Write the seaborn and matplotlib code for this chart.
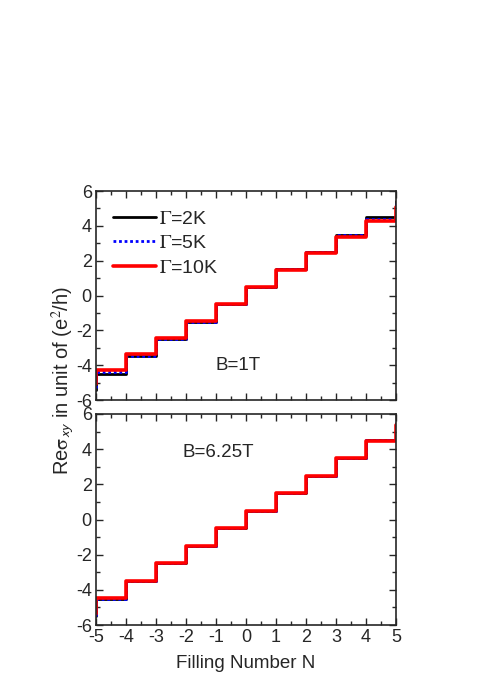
import numpy as np
import pandas as pd
import seaborn as sns
import matplotlib.pyplot as plt
from matplotlib.ticker import MultipleLocator

# filling number edges and plateau values (units of e^2/h)
filling = [-5, -4, -3, -2, -1, 0, 1, 2, 3, 4, 5]

# B = 1T
top_2k = [-4.5, -3.5, -2.5, -1.5, -0.5, 0.5, 1.5, 2.5, 3.5, 4.5]
top_5k = [-4.42, -3.46, -2.49, -1.5, -0.5, 0.5, 1.5, 2.49, 3.46, 4.42]
top_10k = [-4.3, -3.38, -2.46, -1.49, -0.5, 0.5, 1.49, 2.46, 3.38, 4.3]
top_ends = {"2K": (-5.4, 5.4), "5K": (-5.3, 5.3), "10K": (-5.1, 5.1)}

# B = 6.25T
bot_2k = [-4.5, -3.5, -2.5, -1.5, -0.5, 0.5, 1.5, 2.5, 3.5, 4.5]
bot_5k = [-4.5, -3.5, -2.5, -1.5, -0.5, 0.5, 1.5, 2.5, 3.5, 4.5]
bot_10k = [-4.47, -3.49, -2.5, -1.5, -0.5, 0.5, 1.5, 2.5, 3.49, 4.47]
bot_ends = {"2K": (-5.5, 5.5), "5K": (-5.5, 5.5), "10K": (-5.4, 5.4)}

sns.set_style("ticks")
plt.rcParams["font.family"] = ["Liberation Sans", "DejaVu Sans"]
plt.rcParams["mathtext.fontset"] = "stix"
plt.rcParams["axes.unicode_minus"] = False
plt.rcParams["xtick.direction"] = "in"
plt.rcParams["ytick.direction"] = "in"


def step_frame(plateaus, ends):
    # steps-post: (x_i, y_i) held until x_{i+1}
    x = [filling[0]] + filling
    y = [ends[0]] + list(plateaus) + [ends[1]]
    return pd.DataFrame({"N": x, "sigma": y})


styles = [
    ("2K", "black", "-", 2.0),
    ("5K", "blue", (0, (1, 1)), 2.0),
    ("10K", "red", "-", 2.6),
]

fig = plt.figure(figsize=(4.85, 6.92), dpi=100)
ax1 = fig.add_axes([96 / 485, 1 - 400 / 692, 300 / 485, 209 / 692])
ax2 = fig.add_axes([96 / 485, 1 - 625 / 692, 300 / 485, 211 / 692])

for ax, series, ends in [(ax1, [top_2k, top_5k, top_10k], top_ends),
                         (ax2, [bot_2k, bot_5k, bot_10k], bot_ends)]:
    for (name, color, ls, lw), vals in zip(styles, series):
        df = step_frame(vals, ends[name])
        sns.lineplot(data=df, x="N", y="sigma", ax=ax, color=color,
                     linestyle=ls, linewidth=lw, drawstyle="steps-post",
                     sort=False, estimator=None,
                     label=r"$\mathrm{\Gamma}$=" + name)
    ax.set_xlim(-5, 5)
    ax.set_ylim(-6, 6)
    ax.xaxis.set_major_locator(MultipleLocator(1))
    ax.xaxis.set_minor_locator(MultipleLocator(0.5))
    ax.yaxis.set_major_locator(MultipleLocator(2))
    ax.yaxis.set_minor_locator(MultipleLocator(1))
    ax.tick_params(which="both", top=True, right=True, labelsize=13)
    ax.tick_params(which="major", length=5, width=1, pad=3)
    ax.tick_params(which="minor", length=3, width=1)
    for s in ax.spines.values():
        s.set_linewidth(1.2)
    ax.set_xlabel("")
    ax.set_ylabel("")

ax1.tick_params(labelbottom=False)
ax1.legend(loc="upper left", frameon=False, fontsize=14, handlelength=2.2,
           handletextpad=0.2, labelspacing=0.35, borderaxespad=0.0,
           bbox_to_anchor=(0.03, 0.945))
ax2.get_legend().remove()

ax1.text(-0.25, -4.0, "B=1T", fontsize=13.5, ha="center", va="center")
ax2.text(-0.93, 3.8, "B=6.25T", fontsize=13.5, ha="center", va="center")

ax2.set_xlabel("Filling Number N", fontsize=13.5, labelpad=6)
fig.text(63 / 485, 1 - 380 / 692,
         r"Re$\mathrm{\sigma}_{\mathsf{xy}}$ in unit of (e$^2$/h)",
         rotation=90, ha="center", va="center", fontsize=14.5)

fig.savefig("out.png", dpi=100)
